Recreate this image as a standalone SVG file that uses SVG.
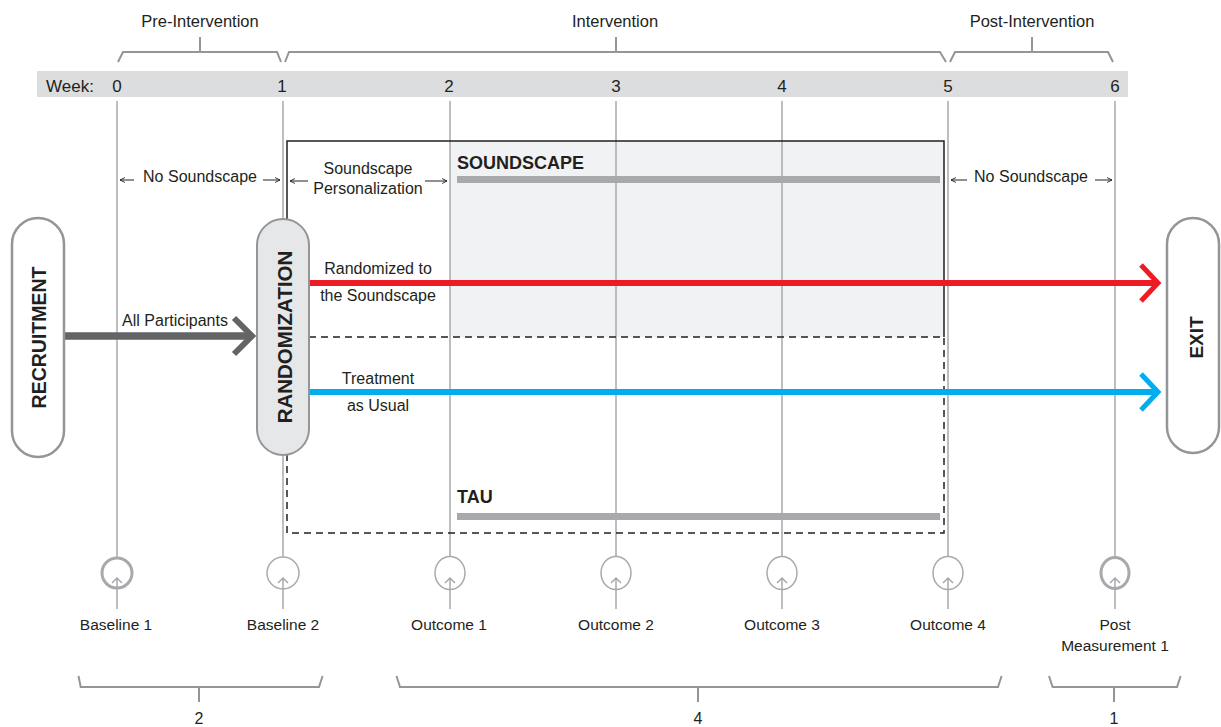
<svg xmlns="http://www.w3.org/2000/svg" width="1221" height="727" viewBox="0 0 1221 727">
<style>
text{font-family:"Liberation Sans",Arial,sans-serif;fill:#231f20}
.top{font-size:16.5px;text-anchor:middle}
.wk{font-size:17px}
.wkn{font-size:17px;text-anchor:middle}
.lbl{font-size:16px;text-anchor:middle}
.bot{font-size:15.5px;text-anchor:middle}
.num{font-size:16px;text-anchor:middle}
.hd{font-size:18px;font-weight:bold}
.vt{font-weight:bold;text-anchor:middle}
.brk{fill:none;stroke:#939598;stroke-width:2}
.vl{stroke:#a7a9ac;stroke-width:1.5;fill:none}
.sm{stroke:#231f20;stroke-width:1;fill:none}
.bar{fill:#a7a9ac}
.node{fill:#fff;stroke:#939598;stroke-width:2.5}
.ms{fill:none;stroke:#a7a9ac;stroke-width:1.5}
.msk{fill:#fff;stroke:#a7a9ac;stroke-width:3}
.msa{fill:none;stroke:#a7a9ac;stroke-width:1.5}
</style>
<defs>
<marker id="ah" viewBox="0 0 10 10" refX="9" refY="5" markerWidth="7" markerHeight="7" orient="auto-start-reverse" markerUnits="userSpaceOnUse">
<path d="M2,1.5 L9,5 L2,8.5" fill="none" stroke="#231f20" stroke-width="1.3"/>
</marker>
</defs>

<!-- phase brackets -->
<g id="phases">
<path class="brk" d="M118,62 L123,52 L277,52 L281,62 M200,37 V52"/>
<path class="brk" d="M285,62 L289,52 L940,52 L946,62 M616,37 V52"/>
<path class="brk" d="M950,62 L955,52 L1108,52 L1113,62 M1032,37 V52"/>
<text class="top" x="200" y="27">Pre-Intervention</text>
<text class="top" x="615" y="27">Intervention</text>
<text class="top" x="1032" y="27">Post-Intervention</text>
</g>

<!-- week bar -->
<g id="weeks">
<rect x="37" y="71" width="1091" height="26" fill="#dcddde"/>
<text class="wk" x="46" y="92">Week:</text>
<text class="wkn" x="117" y="92">0</text>
<text class="wkn" x="282" y="92">1</text>
<text class="wkn" x="449" y="92">2</text>
<text class="wkn" x="616" y="92">3</text>
<text class="wkn" x="782" y="92">4</text>
<text class="wkn" x="948" y="92">5</text>
<text class="wkn" x="1115" y="92">6</text>
</g>

<!-- soundscape box fill -->
<g id="soundscape-box">
<rect x="450" y="141" width="494" height="196" fill="#f1f2f4"/>
</g>

<!-- week lines -->
<g id="week-lines" class="vl">
<path d="M117,101 V557 M283,101 V557 M450,101 V557 M616,101 V557 M782,101 V557 M948,101 V557 M1115,101 V557"/>
</g>

<!-- arms -->
<g id="soundscape-arm">
<rect class="bar" x="457" y="176" width="483" height="7"/>
<text class="hd" x="457" y="169">SOUNDSCAPE</text>
</g>
<g id="tau-arm">
<rect class="bar" x="457" y="513" width="483" height="7"/>
<text class="hd" x="457" y="503">TAU</text>
</g>
<g id="box-outlines">
<path d="M287,330 V141 H944 V337" fill="none" stroke="#231f20" stroke-width="1.5"/>
<path d="M309,337 H944 V533 H287 V430" fill="none" stroke="#231f20" stroke-width="1.5" stroke-dasharray="7,5"/>
</g>

<!-- period labels -->
<g id="periods">
<path class="sm" d="M134,180 H120" marker-end="url(#ah)"/>
<text class="lbl" x="200" y="182">No Soundscape</text>
<path class="sm" d="M263,180 H280" marker-end="url(#ah)"/>
<path class="sm" d="M308,181 H290" marker-end="url(#ah)"/>
<text class="lbl" x="368" y="174">Soundscape</text>
<text class="lbl" x="368" y="194">Personalization</text>
<path class="sm" d="M425,181 H447" marker-end="url(#ah)"/>
<path class="sm" d="M967,180 H951" marker-end="url(#ah)"/>
<text class="lbl" x="1031" y="182">No Soundscape</text>
<path class="sm" d="M1095,180 H1112" marker-end="url(#ah)"/>
</g>

<!-- connectors -->
<g id="connectors">
<path d="M64,336 H251" stroke="#636466" stroke-width="7.5" fill="none"/>
<path d="M234,318 L252,336 L234,354" stroke="#636466" stroke-width="6" fill="none"/>
<text class="lbl" x="175" y="326">All Participants</text>
<path d="M309,283 H1156" stroke="#ed1c24" stroke-width="6" fill="none"/>
<path d="M1141,265 L1158,283 L1141,301" stroke="#ed1c24" stroke-width="5" fill="none"/>
<text class="lbl" x="378" y="274">Randomized to</text>
<text class="lbl" x="378" y="301">the Soundscape</text>
<path d="M309,392 H1156" stroke="#00aeef" stroke-width="6" fill="none"/>
<path d="M1141,374 L1158,392 L1141,410" stroke="#00aeef" stroke-width="5" fill="none"/>
<text class="lbl" x="378" y="384">Treatment</text>
<text class="lbl" x="378" y="411">as Usual</text>
</g>

<!-- nodes -->
<g id="recruitment">
<rect class="node" x="12" y="218" width="52" height="239" rx="26"/>
<text class="vt" font-size="19.5" transform="translate(45.5,337.5) rotate(-90)">RECRUITMENT</text>
</g>
<g id="randomization">
<rect x="257" y="219" width="52" height="236" rx="26" fill="#e6e7e8" stroke="#939598" stroke-width="2"/>
<text class="vt" font-size="20.5" transform="translate(291.5,337) rotate(-90)">RANDOMIZATION</text>
</g>
<g id="exit">
<rect class="node" x="1167" y="218" width="52" height="235" rx="26"/>
<text class="vt" font-size="19" transform="translate(1202.5,337.5) rotate(-90)">EXIT</text>
</g>

<!-- measurements -->
<g id="m-baseline1">
<circle class="msk" cx="117" cy="573" r="15"/>
<path class="msa" d="M117,609 V578 M112,583 L117,578 L122,583"/>
<text class="bot" x="116" y="630">Baseline 1</text>
</g>
<g id="m-baseline2">
<circle class="ms" cx="283" cy="573" r="16"/>
<path class="msa" d="M283,609 V578 M278,583 L283,578 L288,583"/>
<text class="bot" x="283" y="630">Baseline 2</text>
</g>
<g id="m-outcome1">
<ellipse class="ms" cx="450" cy="573" rx="15" ry="16.5"/>
<path class="msa" d="M450,609 V578 M445,583 L450,578 L455,583"/>
<text class="bot" x="449" y="630">Outcome 1</text>
</g>
<g id="m-outcome2">
<ellipse class="ms" cx="616" cy="573" rx="15" ry="16.5"/>
<path class="msa" d="M616,609 V578 M611,583 L616,578 L621,583"/>
<text class="bot" x="616" y="630">Outcome 2</text>
</g>
<g id="m-outcome3">
<ellipse class="ms" cx="782" cy="573" rx="15" ry="16.5"/>
<path class="msa" d="M782,609 V578 M777,583 L782,578 L787,583"/>
<text class="bot" x="782" y="630">Outcome 3</text>
</g>
<g id="m-outcome4">
<ellipse class="ms" cx="948" cy="573" rx="15" ry="16.5"/>
<path class="msa" d="M948,609 V578 M943,583 L948,578 L953,583"/>
<text class="bot" x="948" y="630">Outcome 4</text>
</g>
<g id="m-post1">
<ellipse class="msk" cx="1115" cy="573" rx="14" ry="15.5"/>
<path class="msa" d="M1115,609 V578 M1110,583 L1115,578 L1120,583"/>
<text class="bot" x="1115" y="630">Post</text>
<text class="bot" x="1115" y="651">Measurement 1</text>
</g>

<!-- duration brackets -->
<g id="durations">
<path class="brk" d="M78.5,676 L80.7,687 L319,687 L322.6,676 M199,687 V702"/>
<path class="brk" d="M396.5,676 L400,687 L998,687 L1001.6,676 M698,687 V702"/>
<path class="brk" d="M1049,676 L1052.6,687 L1177,687 L1180.6,676 M1114,687 V702"/>
<text class="num" x="199" y="724">2</text>
<text class="num" x="698" y="724">4</text>
<text class="num" x="1114" y="724">1</text>
</g>
</svg>
